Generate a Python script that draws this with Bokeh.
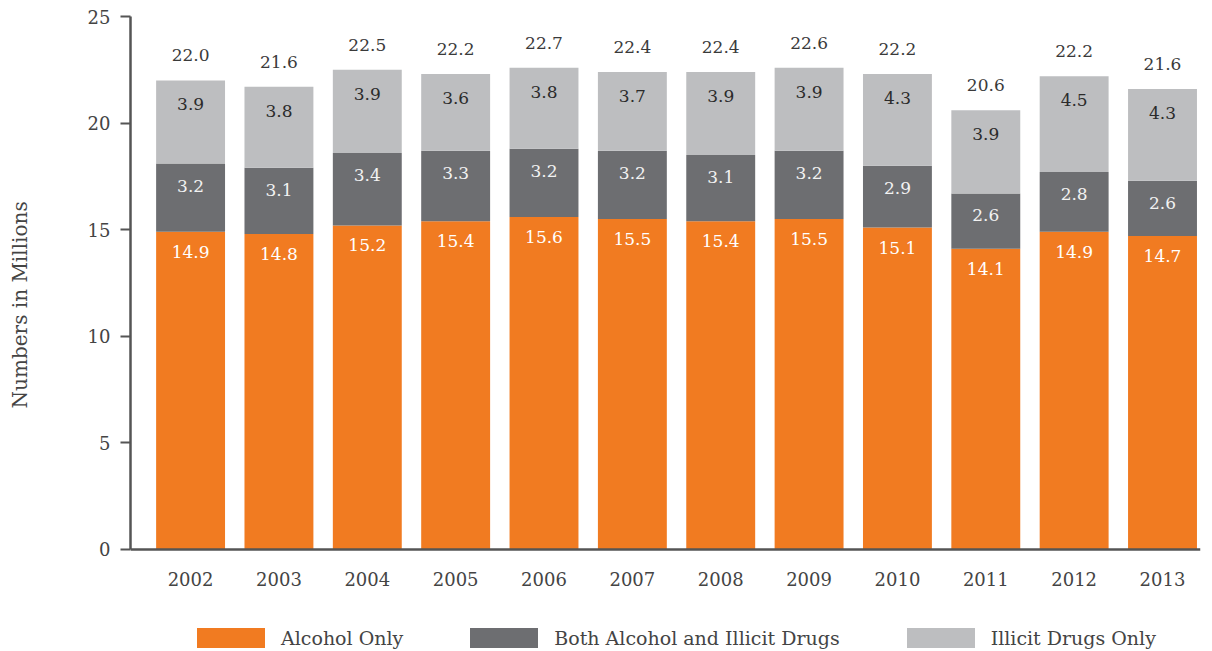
from bokeh.plotting import figure
from bokeh.models import ColumnDataSource, Range1d, FixedTicker, Legend, LegendItem
from bokeh.core.properties import value
from bokeh.embed import file_html
from bokeh.resources import INLINE

years = ["2002", "2003", "2004", "2005", "2006", "2007", "2008", "2009", "2010", "2011", "2012", "2013"]
alcohol_only = [14.9, 14.8, 15.2, 15.4, 15.6, 15.5, 15.4, 15.5, 15.1, 14.1, 14.9, 14.7]
both = [3.2, 3.1, 3.4, 3.3, 3.2, 3.2, 3.1, 3.2, 2.9, 2.6, 2.8, 2.6]
illicit_only = [3.9, 3.8, 3.9, 3.6, 3.8, 3.7, 3.9, 3.9, 4.3, 3.9, 4.5, 4.3]
totals = [22.0, 21.6, 22.5, 22.2, 22.7, 22.4, 22.4, 22.6, 22.2, 20.6, 22.2, 21.6]
series_names = ["Alcohol Only", "Both Alcohol and Illicit Drugs", "Illicit Drugs Only"]
y_ticks = [0, 5, 10, 15, 20, 25]
y_label = "Numbers in Millions"

ORANGE = "#F17B21"
DARK = "#6D6E71"
LIGHT = "#BDBEC0"
FONT = "DejaVu Serif"

x = list(range(len(years)))
top1 = alcohol_only
top2 = [a + b for a, b in zip(alcohol_only, both)]
top3 = [t + c for t, c in zip(top2, illicit_only)]

src = ColumnDataSource(dict(
    x=x, a=alcohol_only, b=both, c=illicit_only,
    t1=top1, t2=top2, t3=top3, bot=[0] * len(x),
    la=[f"{v:.1f}" for v in alcohol_only],
    lb=[f"{v:.1f}" for v in both],
    lc=[f"{v:.1f}" for v in illicit_only],
    lt=[f"{v:.1f}" for v in totals],
))

p = figure(width=1204, height=650, output_backend="svg", toolbar_location=None,
           x_range=Range1d(-0.68, 11.43), y_range=Range1d(-4.74, 25),
           min_border_left=130, min_border_right=4, min_border_top=16, min_border_bottom=0)
p.outline_line_color = None
p.xgrid.grid_line_color = None
p.ygrid.grid_line_color = None

w = 0.78
r1 = p.vbar(x="x", bottom="bot", top="t1", width=w, source=src, fill_color=ORANGE, line_color=None)
r2 = p.vbar(x="x", bottom="t1", top="t2", width=w, source=src, fill_color=DARK, line_color=None)
r3 = p.vbar(x="x", bottom="t2", top="t3", width=w, source=src, fill_color=LIGHT, line_color=None)

common = dict(text_font=value(FONT), text_font_size="17px", text_align="center", text_baseline="middle")
p.text(x="x", y="t1", text="la", y_offset=20, text_color="#FFFFFF", source=src, **common)
p.text(x="x", y="t2", text="lb", y_offset=22, text_color="#F2F2F2", source=src, **common)
p.text(x="x", y="t3", text="lc", y_offset=24, text_color="#2B2B2B", source=src, **common)
p.text(x="x", y="t3", text="lt", y_offset=-25, text_color="#3A3A3A", source=src, **common)

# axes
p.xaxis.fixed_location = 0
p.xaxis.ticker = FixedTicker(ticks=x)
p.xaxis.major_label_overrides = {i: y for i, y in enumerate(years)}
p.xaxis.major_tick_line_color = None
p.xaxis.minor_tick_line_color = None
p.xaxis.major_label_standoff = 17
p.yaxis.ticker = FixedTicker(ticks=y_ticks)
p.yaxis.bounds = (0, 25)
p.yaxis.major_tick_out = 10
p.yaxis.major_tick_in = 0
p.yaxis.minor_tick_line_color = None
p.yaxis.major_label_standoff = 10
# leading no-break spaces lift the centred label to where the reference has it
p.yaxis.axis_label = "\u00a0" * 9 + y_label
p.yaxis.axis_label_standoff = 53
for ax in (p.xaxis, p.yaxis):
    ax.axis_line_color = "#555555"
    ax.axis_line_width = 2.5
    ax.major_tick_line_width = 2
    ax.major_label_text_font = FONT
    ax.major_label_text_font_size = "18px"
    ax.major_label_text_color = "#444444"
    ax.axis_label_text_font = FONT
    ax.axis_label_text_font_size = "20px"
    ax.axis_label_text_font_style = "normal"
    ax.axis_label_text_color = "#444444"
p.yaxis.major_tick_line_color = "#555555"

legend = Legend(items=[LegendItem(label=series_names[0], renderers=[r1]),
                       LegendItem(label=series_names[1], renderers=[r2]),
                       LegendItem(label=series_names[2], renderers=[r3])],
                orientation="horizontal", location=(58, 0),
                glyph_width=85, glyph_height=25, label_standoff=8, spacing=58,
                label_text_font=FONT, label_text_font_size="19px", label_text_color="#444444",
                border_line_color=None, background_fill_alpha=0, margin=0, padding=0)
p.add_layout(legend, "center")

open("out.html", "w").write(file_html(p, INLINE))
